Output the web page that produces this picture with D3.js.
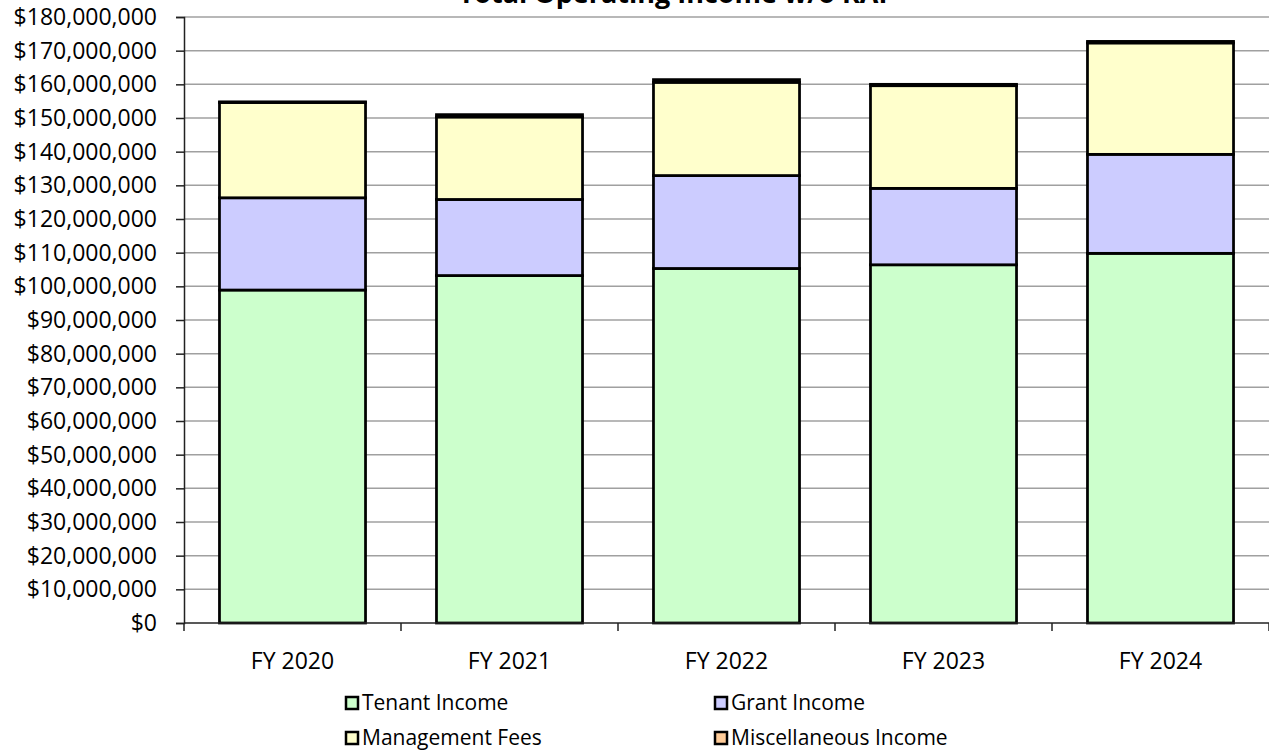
<!DOCTYPE html>
<html>
<head>
<meta charset="utf-8">
<script src="https://cdn.jsdelivr.net/npm/d3@7"></script>
<style>
  body { margin: 0; background: #fff; }
  svg { display: block; }
  text { font-family: "Open Sans", sans-serif; fill: #000; }
</style>
</head>
<body>
<svg id="chart" width="1269" height="755"></svg>
<script>
// values in millions of dollars
const years = ['FY 2020', 'FY 2021', 'FY 2022', 'FY 2023', 'FY 2024']
const tenantIncome = [98.9, 103.2, 105.3, 106.4, 109.8]
const grantIncome = [27.4, 22.6, 27.6, 22.7, 29.4]
const managementFees = [28.3, 24.5, 27.7, 30.5, 33.1]
const miscIncome = [0.2, 0.7, 0.8, 0.4, 0.45]
const yTicks = [0, 10, 20, 30, 40, 50, 60, 70, 80, 90, 100, 110, 120, 130, 140, 150, 160, 170, 180]

const seriesNames = ['Tenant Income', 'Grant Income', 'Management Fees', 'Miscellaneous Income']
const colors = ['#ccffcc', '#ccccff', '#ffffcc', '#ffcc99']

const margin = { top: 17, right: 0, bottom: 132, left: 184 }
const width = 1269 - margin.left - margin.right
const height = 755 - margin.top - margin.bottom

const svg = d3.select('#chart')

// build rows for the stack
const rows = years.map((y, i) => ({
  year: y,
  s0: tenantIncome[i] * 1e6,
  s1: grantIncome[i] * 1e6,
  s2: managementFees[i] * 1e6,
  s3: miscIncome[i] * 1e6
}))
const stacked = d3.stack().keys(['s0', 's1', 's2', 's3'])(rows)

const xScale = d3.scaleBand().domain(years).range([0, width])
const barW = xScale.bandwidth() * 0.673

const yScale = d3.scaleLinear().domain([0, 180e6]).range([height, 0])

const g = svg.append('g').attr('transform', `translate(${margin.left},${margin.top})`)

// title, mostly cut off at the top edge
svg.append('text')
  .attr('x', 677).attr('y', 3)
  .attr('text-anchor', 'middle')
  .style('font-weight', 'bold')
  .style('font-size', '27px')
  .text('Total Operating Income w/o RAP')

// gridlines
g.append('g').selectAll('line')
  .data(yTicks.slice(1))
  .enter().append('line')
  .attr('x1', 0).attr('x2', width)
  .attr('y1', d => yScale(d * 1e6)).attr('y2', d => yScale(d * 1e6))
  .attr('stroke', '#a0a0a0').attr('stroke-width', 1.5)

// bars
g.append('g').selectAll('g')
  .data(stacked)
  .enter().append('g')
  .attr('fill', (d, i) => colors[i])
  .selectAll('rect')
  .data(d => d)
  .enter().append('rect')
  .attr('x', d => xScale(d.data.year) + (xScale.bandwidth() - barW) / 2)
  .attr('width', barW)
  .attr('y', d => yScale(d[1]))
  .attr('height', d => yScale(d[0]) - yScale(d[1]))
  .attr('stroke', '#000').attr('stroke-width', 2.75)

// y axis
const yAxis = g.append('g')
  .call(d3.axisLeft(yScale)
    .tickValues(yTicks.map(v => v * 1e6))
    .tickSize(8)
    .tickPadding(19)
    .tickFormat(d => '$' + d3.format(',')(d)))
yAxis.select('.domain').attr('stroke', '#222').attr('stroke-width', 1.5)
yAxis.selectAll('.tick line').attr('stroke', '#222').attr('stroke-width', 1.5)
yAxis.selectAll('text').style('font-size', '23px').attr('fill', '#000')

// x axis: ticks on category boundaries
const xAxis = g.append('g').attr('transform', `translate(0,${height})`)
xAxis.append('line')
  .attr('x1', 0).attr('x2', width)
  .attr('stroke', '#222').attr('stroke-width', 1.5)
xAxis.selectAll('.bound')
  .data(years.concat(['end']))
  .enter().append('line')
  .attr('x1', (d, i) => i < years.length ? xScale(d) : width)
  .attr('x2', (d, i) => i < years.length ? xScale(d) : width)
  .attr('y1', 0).attr('y2', 8)
  .attr('stroke', '#222').attr('stroke-width', 1.5)
xAxis.selectAll('.lbl')
  .data(years)
  .enter().append('text')
  .attr('x', d => xScale(d) + xScale.bandwidth() / 2)
  .attr('y', 46)
  .attr('text-anchor', 'middle')
  .style('font-size', '23px')
  .text(d => d)

// legend, two rows by two columns
const legendX = [346, 715]
const legendY = [703, 738]
const legend = svg.append('g').selectAll('g')
  .data(seriesNames)
  .enter().append('g')
  .attr('transform', (d, i) => `translate(${legendX[i % 2]},${legendY[Math.floor(i / 2)]})`)
legend.append('rect')
  .attr('x', 0).attr('y', -6).attr('width', 12).attr('height', 12)
  .attr('fill', (d, i) => colors[i])
  .attr('stroke', '#000').attr('stroke-width', 2.5)
legend.append('text')
  .attr('x', 16).attr('y', 0)
  .attr('dy', '0.35em')
  .style('font-size', '21px')
  .text(d => d)
</script>
</body>
</html>
